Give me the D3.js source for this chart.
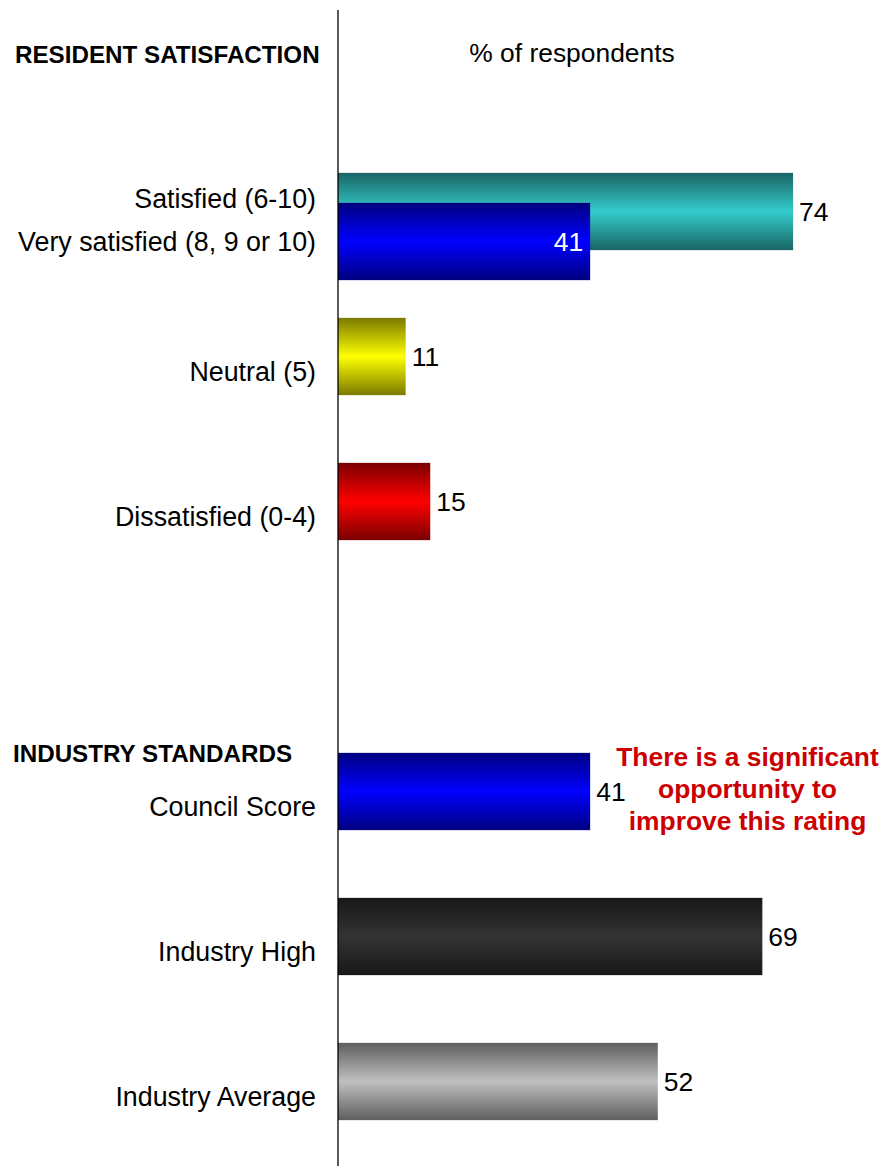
<!DOCTYPE html>
<html>
<head>
<meta charset="utf-8">
<script src="https://cdn.jsdelivr.net/npm/d3@7/dist/d3.min.js"></script>
<style>
  html, body { margin: 0; padding: 0; background: #fff; }
  svg { display: block; font-family: "Liberation Sans", Arial, sans-serif; }
</style>
</head>
<body>
<svg id="chart" width="883" height="1166"></svg>
<script>
// Rows of the chart (an empty row separates the two sections)
const categories = ["Satisfied (6-10)", "Neutral (5)", "Dissatisfied (0-4)", "", "Council Score", "Industry High", "Industry Average"];
const values = [74, 11, 15, null, 41, 69, 52];

// Second series drawn over the first row
const overlayLabel = "Very satisfied (8, 9 or 10)";
const overlayValue = 41;

// Gradient colours per row: [edge, centre]
const rowColors = [
  ["#1b6464", "#33cccc"],
  ["#7a7a00", "#ffff00"],
  ["#7a0000", "#ff0000"],
  null,
  ["#000080", "#0000ff"],
  ["#171717", "#343434"],
  ["#5e5e5e", "#c0c0c0"]
];
const overlayColors = ["#000080", "#0000ff"];

const sectionHeaders = ["RESIDENT SATISFACTION", "INDUSTRY STANDARDS"];
const axisTitle = "% of respondents";
const noteLines = ["There is a significant", "opportunity to", "improve this rating"];

const svg = d3.select("#chart");
const axisX = 338;
const labelSize = 26.8;
const valueSize = 26.5;

const x = d3.scaleLinear().domain([0, 100]).range([axisX, 953]);
const y = d3.scaleBand()
  .domain(categories)
  .range([139, 1154])
  .paddingInner(0.467)
  .paddingOuter(0.2335);
const bh = y.bandwidth();
const overlayShift = 30;

// Vertical "tube" gradients: dark edges, bright centre
const defs = svg.append("defs");
function addGradient(id, c) {
  const g = defs.append("linearGradient")
    .attr("id", id).attr("x1", 0).attr("y1", 0).attr("x2", 0).attr("y2", 1);
  g.append("stop").attr("offset", "0%").attr("stop-color", c[0]);
  g.append("stop").attr("offset", "50%").attr("stop-color", c[1]);
  g.append("stop").attr("offset", "100%").attr("stop-color", c[0]);
}
rowColors.forEach((c, i) => { if (c) addGradient("g" + i, c); });
addGradient("gOverlay", overlayColors);

const rows = categories.map((c, i) => ({ cat: c, value: values[i], i }))
  .filter(d => d.value !== null);

// Bars
svg.append("g").selectAll("rect")
  .data(rows)
  .join("rect")
  .attr("x", x(0))
  .attr("y", d => y(d.cat))
  .attr("width", d => x(d.value) - x(0))
  .attr("height", bh)
  .attr("fill", d => `url(#g${d.i})`);

// Overlay bar on the first row
svg.append("rect")
  .attr("x", x(0))
  .attr("y", y(categories[0]) + overlayShift)
  .attr("width", x(overlayValue) - x(0))
  .attr("height", bh)
  .attr("fill", "url(#gOverlay)");

// Value labels
svg.append("g").selectAll("text")
  .data(rows)
  .join("text")
  .attr("x", d => x(d.value) + 6)
  .attr("y", d => y(d.cat) + bh / 2)
  .attr("dy", "0.34em")
  .attr("font-size", valueSize)
  .attr("fill", "#000")
  .text(d => d.value);

svg.append("text")
  .attr("x", x(overlayValue) - 7)
  .attr("y", y(categories[0]) + overlayShift + bh / 2)
  .attr("dy", "0.34em")
  .attr("text-anchor", "end")
  .attr("font-size", valueSize)
  .attr("fill", "#fff")
  .text(overlayValue);

// Category labels
const labelX = 316;
svg.append("g").selectAll("text")
  .data(rows.filter(d => d.i > 0))
  .join("text")
  .attr("x", labelX)
  .attr("y", d => y(d.cat) + bh / 2 + 24)
  .attr("text-anchor", "end")
  .attr("font-size", labelSize)
  .attr("fill", "#000")
  .text(d => d.cat);

svg.append("text")
  .attr("x", labelX)
  .attr("y", y(categories[0]) + bh / 2 - 4)
  .attr("text-anchor", "end")
  .attr("font-size", labelSize)
  .text(categories[0]);
svg.append("text")
  .attr("x", labelX)
  .attr("y", y(categories[0]) + overlayShift + bh / 2 + 9)
  .attr("text-anchor", "end")
  .attr("font-size", labelSize)
  .text(overlayLabel);

// Section headers and axis title
svg.append("text")
  .attr("x", 15).attr("y", 63)
  .attr("font-size", 24.2).attr("font-weight", "bold")
  .text(sectionHeaders[0]);
svg.append("text")
  .attr("x", 13).attr("y", 762)
  .attr("font-size", 24.2).attr("font-weight", "bold")
  .text(sectionHeaders[1]);
svg.append("text")
  .attr("x", 572).attr("y", 62)
  .attr("text-anchor", "middle")
  .attr("font-size", 26.4)
  .text(axisTitle);

// Vertical axis line
svg.append("line")
  .attr("x1", axisX).attr("x2", axisX)
  .attr("y1", 10).attr("y2", 1166)
  .attr("stroke", "#000").attr("stroke-width", 1.3);

// Annotation next to the council score
svg.append("text")
  .attr("text-anchor", "middle")
  .attr("font-size", 26.4)
  .attr("font-weight", "bold")
  .attr("fill", "#cc0000")
  .selectAll("tspan")
  .data(noteLines)
  .join("tspan")
  .attr("x", 747.5)
  .attr("y", (d, i) => 766 + i * 32)
  .text(d => d);
</script>
</body>
</html>
